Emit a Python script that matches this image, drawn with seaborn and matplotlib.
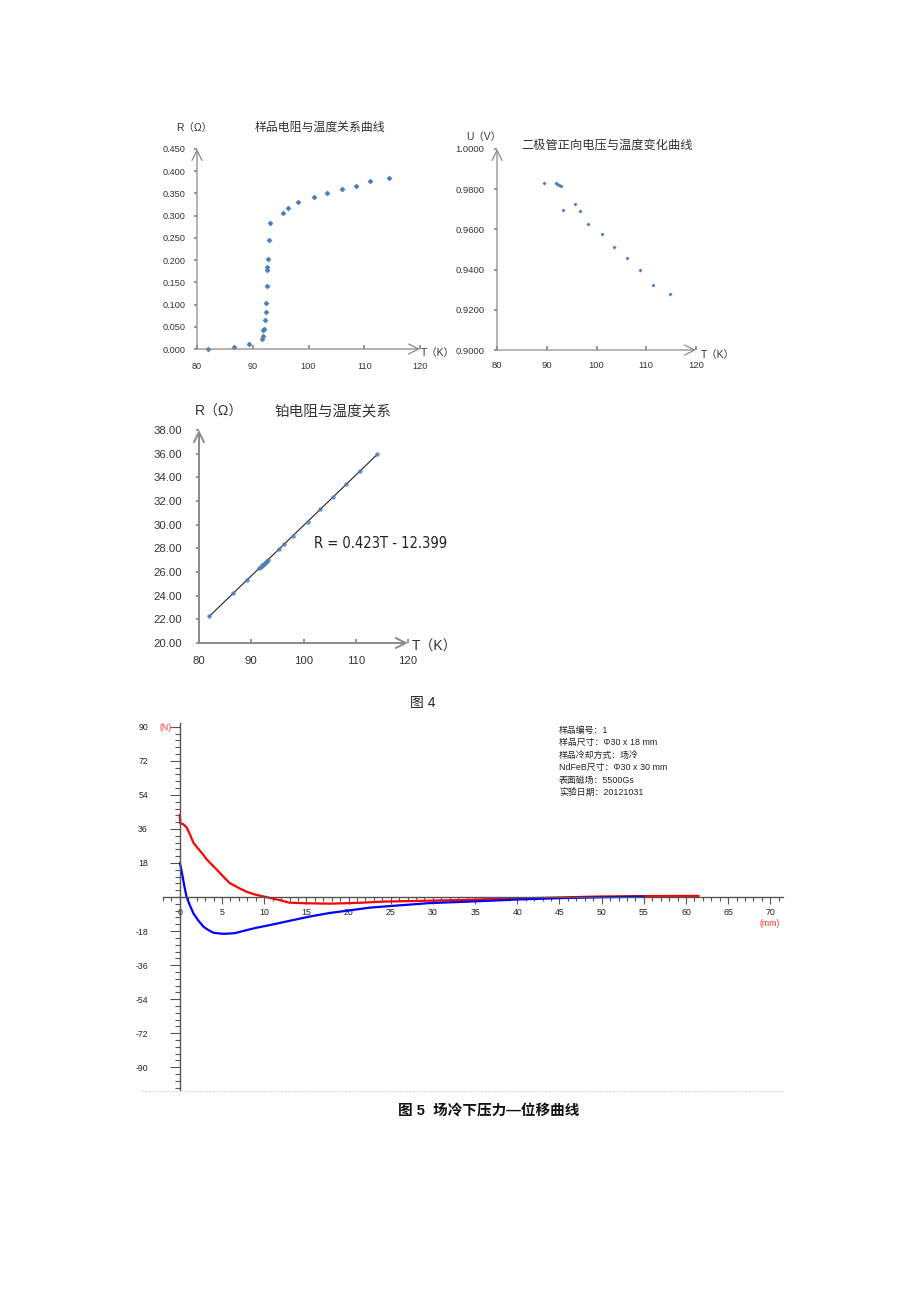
import matplotlib
matplotlib.use("Agg")
import matplotlib.pyplot as plt
import matplotlib.ticker as mticker
from matplotlib.lines import Line2D
import seaborn as sns
import pandas as pd

# --- sample resistance vs temperature (top left) ---
sample_T = [81.9, 86.7, 89.3, 91.6, 91.8, 91.9, 92.0, 92.2, 92.4, 92.4, 92.5, 92.5, 92.5,
            92.8, 93.0, 93.1, 95.5, 96.4, 98.2, 101.0, 103.3, 106.0, 108.5, 111.1, 114.5]
sample_R = [0.000, 0.005, 0.011, 0.023, 0.029, 0.042, 0.046, 0.066, 0.083, 0.104, 0.141, 0.178, 0.185,
            0.202, 0.245, 0.284, 0.307, 0.318, 0.330, 0.341, 0.351, 0.360, 0.367, 0.378, 0.385]

# --- diode forward voltage vs temperature (top right) ---
diode_T = [89.4, 91.9, 92.1, 92.4, 92.8, 93.3, 95.6, 96.7, 98.3, 101.2, 103.5, 106.2, 108.7, 111.4, 114.7]
diode_U = [0.9831, 0.9831, 0.9826, 0.9821, 0.9814, 0.9698, 0.9725, 0.9692, 0.9625, 0.9577,
           0.9512, 0.9456, 0.9398, 0.9323, 0.9279]

# --- platinum resistance vs temperature (middle) ---
pt_T = [81.9, 86.6, 89.1, 91.5, 91.8, 92.0, 92.2, 92.4, 92.6, 92.8, 93.0, 93.2,
        95.3, 96.3, 98.0, 100.8, 103.2, 105.7, 108.2, 110.8, 114.1]
pt_R = [22.25, 24.19, 25.32, 26.35, 26.45, 26.55, 26.60, 26.70, 26.75, 26.85, 26.95, 27.00,
        27.93, 28.35, 29.06, 30.21, 31.31, 32.35, 33.42, 34.54, 35.95]
pt_fit_label = "R = 0.423T - 12.399"

# --- force vs displacement, field cooled (bottom) ---
red_x = [0, 0.05, 0.4, 0.8, 1.2, 1.6, 2.0, 2.8, 3.2, 4.3, 5.0, 5.9, 7.0, 7.9, 9.0, 9.9, 11.0, 11.9,
         13.0, 15.0, 17.8, 20.2, 22.0, 24.1, 27.7, 30.0, 33.2, 36.0, 40.0, 45.0, 50.0, 55.0, 61.5]
red_f = [43.5, 39.0, 38.5, 36.8, 33.0, 28.8, 26.5, 22.2, 19.8, 14.8, 11.5, 7.4, 4.8, 2.8, 1.2, 0.3, -0.8, -1.7,
         -3.0, -3.3, -3.5, -3.2, -2.9, -2.4, -2.1, -1.9, -1.6, -1.2, -0.8, -0.2, 0.3, 0.5, 0.6]
blue_x = [0, 0.1, 0.3, 0.5, 0.8, 1.2, 1.6, 2.2, 2.8, 3.4, 4.0, 5.0, 5.5, 6.5, 7.9, 9.0, 10.7, 13.8,
          15.4, 17.8, 20.2, 22.5, 25.7, 29.6, 33.2, 37.0, 40.0, 45.0, 50.0, 55.0]
blue_f = [18.0, 16.0, 11.5, 6.5, 0.0, -4.5, -8.6, -12.5, -15.7, -17.5, -18.9, -19.4, -19.4, -19.1, -17.5,
          -16.3, -14.8, -11.8, -10.3, -8.4, -7.0, -5.6, -4.5, -3.2, -2.6, -1.9, -1.3, -0.6, -0.1, 0.2]

info_lines = ["样品编号：1", "样品尺寸：Φ30 x 18 mm", "样品冷却方式：场冷",
              "NdFeB尺寸：Φ30 x 30 mm", "表面磁场：5500Gs", "实验日期：20121031"]

sns.set_theme(style="white")
plt.rcParams['font.family'] = ['Liberation Sans', 'Noto Sans CJK SC', 'DejaVu Sans']
plt.rcParams['axes.unicode_minus'] = False

W, H = 920, 1302
fig = plt.figure(figsize=(W / 100, H / 100), dpi=100)
fig.patch.set_facecolor("white")

PT_BLUE = "#4a7ebb"
AX_GREY = "#8a8a8a"
TXT = "#333333"


def px_axes(left, top, right, bottom):
    return fig.add_axes([left / W, 1 - bottom / H, (right - left) / W, (bottom - top) / H])


def ftext(x, y, s, **kw):
    kw.setdefault("ha", "center")
    kw.setdefault("va", "center")
    return fig.text(x / W, 1 - y / H, s, **kw)


def arrow_axes(ax, lw):
    # excel style axes: grey lines ending in open arrows
    for sp in ax.spines.values():
        sp.set_visible(False)
    style = "->,head_length=0.6,head_width=0.3"
    ax.annotate("", xy=(1.0, 0), xytext=(0, 0), xycoords="axes fraction",
                arrowprops=dict(arrowstyle=style, color=AX_GREY, lw=lw, shrinkA=0, shrinkB=0),
                annotation_clip=False)
    ax.annotate("", xy=(0, 1.0), xytext=(0, 0), xycoords="axes fraction",
                arrowprops=dict(arrowstyle=style, color=AX_GREY, lw=lw, shrinkA=0, shrinkB=0),
                annotation_clip=False)
    ax.set_facecolor("none")
    ax.set_xlabel("")
    ax.set_ylabel("")


# ---------- chart 1 ----------
ax1 = px_axes(197, 149, 420, 349)
df1 = pd.DataFrame({"T": sample_T, "R": sample_R})
sns.scatterplot(data=df1, x="T", y="R", ax=ax1, marker="D", s=7, color=PT_BLUE,
                edgecolor=PT_BLUE, linewidth=0.3, legend=False, clip_on=False)
ax1.set_xlim(80, 120)
ax1.set_ylim(0, 0.45)
ax1.set_xticks([80, 90, 100, 110, 120])
ax1.set_yticks([i * 0.05 for i in range(10)])
ax1.yaxis.set_major_formatter(mticker.FormatStrFormatter("%.3f"))
ax1.tick_params(axis="x", bottom=True, direction="in", length=3, color=AX_GREY, pad=9,
                labelsize=6.6, labelcolor=TXT)
ax1.tick_params(axis="y", left=True, direction="out", length=2, color=AX_GREY, pad=6,
                labelsize=6.6, labelcolor=TXT)
arrow_axes(ax1, 0.9)
ftext(194, 128, "R（Ω）", fontsize=7.5, color=TXT)
ftext(320, 128, "样品电阻与温度关系曲线", fontsize=8.6, color=TXT)
ftext(438, 353, "T（K）", fontsize=7.5, color=TXT)

# ---------- chart 2 ----------
ax2 = px_axes(497, 149, 696, 350)
df2 = pd.DataFrame({"T": diode_T, "U": diode_U})
sns.scatterplot(data=df2, x="T", y="U", ax=ax2, marker="D", s=3, color=PT_BLUE,
                edgecolor=PT_BLUE, linewidth=0.3, legend=False)
ax2.set_xlim(80, 120)
ax2.set_ylim(0.9, 1.0)
ax2.set_xticks([80, 90, 100, 110, 120])
ax2.set_yticks([0.90, 0.92, 0.94, 0.96, 0.98, 1.00])
ax2.yaxis.set_major_formatter(mticker.FormatStrFormatter("%.4f"))
ax2.tick_params(axis="x", bottom=True, direction="in", length=3, color=AX_GREY, pad=8,
                labelsize=6.8, labelcolor=TXT)
ax2.tick_params(axis="y", left=True, direction="out", length=2, color=AX_GREY, pad=7,
                labelsize=6.8, labelcolor=TXT)
arrow_axes(ax2, 0.9)
ftext(484, 137, "U（V）", fontsize=7.5, color=TXT)
ftext(607, 146, "二极管正向电压与温度变化曲线", fontsize=8.8, color=TXT)
ftext(718, 355, "T（K）", fontsize=7.5, color=TXT)

# ---------- chart 3 ----------
ax3 = px_axes(199, 430, 408, 643)
df3 = pd.DataFrame({"T": pt_T, "R": pt_R})
sns.regplot(data=df3, x="T", y="R", ax=ax3, ci=None, truncate=True,
            scatter_kws=dict(marker="D", s=8, color=PT_BLUE, edgecolors=PT_BLUE, linewidths=0.3, zorder=3),
            line_kws=dict(color="#222222", lw=0.8, zorder=2))
ax3.set_xlim(80, 120)
ax3.set_ylim(20, 38)
ax3.set_xticks([80, 90, 100, 110, 120])
ax3.set_yticks(list(range(20, 39, 2)))
ax3.yaxis.set_major_formatter(mticker.FormatStrFormatter("%.2f"))
ax3.tick_params(axis="x", bottom=True, direction="in", length=3, color=AX_GREY, pad=9,
                labelsize=8.2, labelcolor=TXT)
ax3.tick_params(axis="y", left=True, direction="out", length=2, color=AX_GREY, pad=10,
                labelsize=8.2, labelcolor=TXT)
arrow_axes(ax3, 1.4)
ftext(219, 412, "R（Ω）", fontsize=10, color=TXT)
ftext(333, 412, "铂电阻与温度关系", fontsize=10.5, color=TXT)
ftext(435, 647, "T（K）", fontsize=10, color=TXT)
ftext(381, 543, pt_fit_label, fontsize=10.5, color="#222222",
      family="DejaVu Sans", fontstretch="condensed")

ftext(423, 703, "图 4", fontsize=10, color="#222222")

# ---------- chart 4 ----------
ax4 = px_axes(163, 723, 783, 1090)
dfr = pd.DataFrame({"x": red_x, "F": red_f})
dfb = pd.DataFrame({"x": blue_x, "F": blue_f})
sns.lineplot(data=dfr, x="x", y="F", ax=ax4, sort=False, estimator=None, color="#ff0000", lw=1.6)
sns.lineplot(data=dfb, x="x", y="F", ax=ax4, sort=False, estimator=None, color="#0000ff", lw=1.6)
ax4.set_xlim(-2, 71.5)
ax4.set_ylim(-102, 92)
ax4.set_facecolor("none")
ax4.set_xlabel("")
ax4.set_ylabel("")
for side in ("top", "right"):
    ax4.spines[side].set_visible(False)
ax4.spines["left"].set_position(("data", 0))
ax4.spines["bottom"].set_position(("data", 0))
for side in ("left", "bottom"):
    ax4.spines[side].set_color("#555555")
    ax4.spines[side].set_linewidth(1.0)
ax4.set_xticks(list(range(0, 71, 5)))
ax4.xaxis.set_minor_locator(mticker.MultipleLocator(1))
ax4.set_yticks([-90, -72, -54, -36, -18, 18, 36, 54, 72, 90])
ax4.yaxis.set_minor_locator(mticker.MultipleLocator(3.6))
ax4.tick_params(axis="x", which="major", bottom=True, direction="out", length=5, width=0.8,
                color="#555555", pad=3, labelsize=6.3, labelcolor="#222222")
ax4.tick_params(axis="x", which="minor", bottom=True, direction="out", length=3, width=0.8, color="#555555")
ax4.tick_params(axis="y", which="major", left=True, direction="out", length=7, width=0.8,
                color="#555555", pad=16, labelsize=6.3, labelcolor="#222222")
ax4.tick_params(axis="y", which="minor", left=True, direction="out", length=3.5, width=0.8, color="#555555")
ftext(166, 727, "(N)", fontsize=6.3, color="#ff3030")
ftext(770, 924, "(mm)", fontsize=6.3, color="#ff3030")
for i, line in enumerate(info_lines):
    ftext(559, 730 + i * 12.6, line, fontsize=6.4, color="#222222", ha="left")

fig.add_artist(Line2D([140 / W, 783 / W], [1 - 1091 / H, 1 - 1091 / H], color="#c8c8d8",
                      lw=0.8, ls=(0, (1, 1.5))))

ftext(489, 1112, "图 5  场冷下压力—位移曲线", fontsize=10.5, color="#111111", fontweight="bold")

fig.savefig("out.png", dpi=100, facecolor="white")
